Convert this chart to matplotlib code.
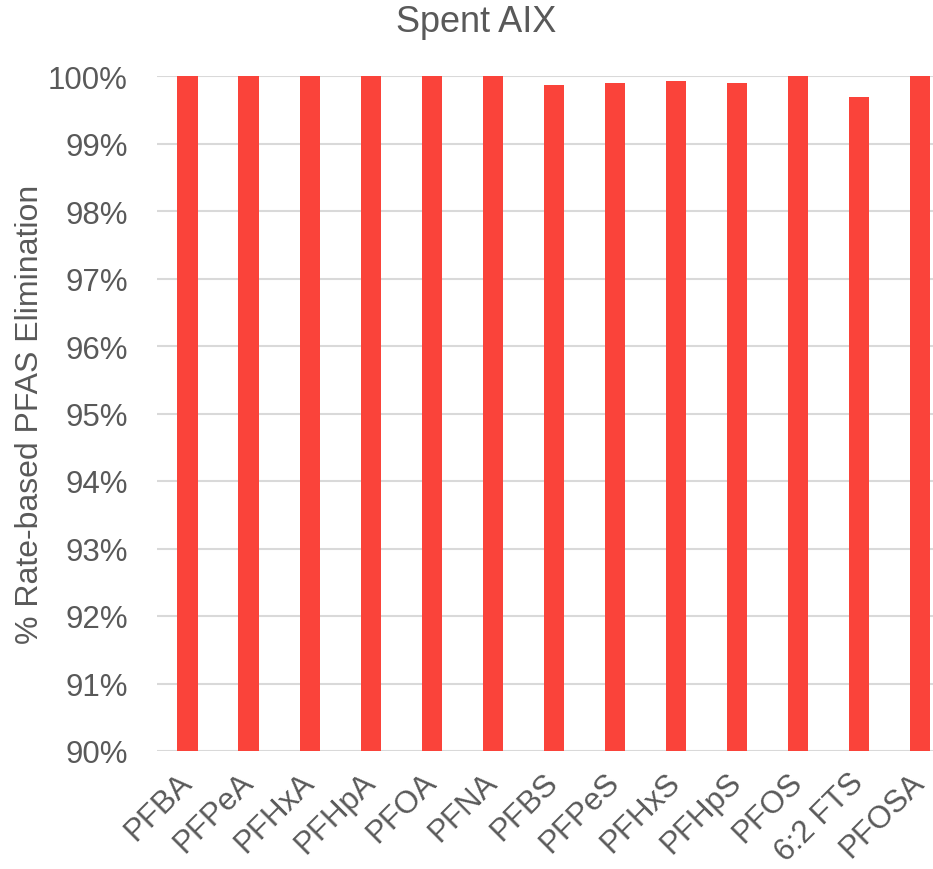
import matplotlib
matplotlib.use("Agg")
import matplotlib.pyplot as plt
from matplotlib.ticker import FuncFormatter
import numpy as np

compounds = ["PFBA", "PFPeA", "PFHxA", "PFHpA", "PFOA", "PFNA", "PFBS",
             "PFPeS", "PFHxS", "PFHpS", "PFOS", "6:2 FTS", "PFOSA"]
elimination = [100.0, 100.0, 100.0, 100.0, 100.0, 100.0, 99.87,
               99.90, 99.93, 99.90, 100.0, 99.69, 100.0]
y_ticks = [90, 91, 92, 93, 94, 95, 96, 97, 98, 99, 100]

plt.rcParams["font.family"] = ["Liberation Sans", "DejaVu Sans"]
text_color = "#595959"
bar_color = "#FA433A"
grid_color = "#D9D9D9"

W, H = 933, 870
fig = plt.figure(figsize=(W / 100, H / 100), dpi=100)

left, right, top, bottom = 157, 950.5, 77, 752
ax = fig.add_axes([left / W, 1 - bottom / H, (right - left) / W, (bottom - top) / H])

x = np.arange(len(compounds))
ax.bar(x, [v - 90 for v in elimination], bottom=90, width=0.33,
       color=bar_color, zorder=3)

ax.set_xlim(-0.5, len(compounds) - 0.5)
ax.set_ylim(90, 100)
ax.set_yticks(y_ticks)
ax.yaxis.set_major_formatter(FuncFormatter(lambda v, _: f"{v:.0f}%"))
ax.grid(axis="y", color=grid_color, linewidth=1.5, zorder=0)
ax.set_axisbelow(True)
for s in ax.spines.values():
    s.set_visible(False)

ax.tick_params(axis="y", length=0, pad=21, labelsize=22.5, labelcolor=text_color)
ax.tick_params(axis="x", length=0, pad=19, labelsize=22.5, labelcolor=text_color)
ax.set_xticks(x)
ax.set_xticklabels(compounds, rotation=45, ha="right", va="center",
                   rotation_mode="anchor")

fig.text(30 / W, 1 - 414.5 / H, "% Rate-based PFAS Elimination",
         rotation=90, ha="center", va="center", fontsize=23, color=text_color)
fig.text(476 / W, 1 - 22 / H, "Spent AIX", ha="center", va="center",
         fontsize=26, color=text_color)

fig.savefig("out.png", dpi=100)
